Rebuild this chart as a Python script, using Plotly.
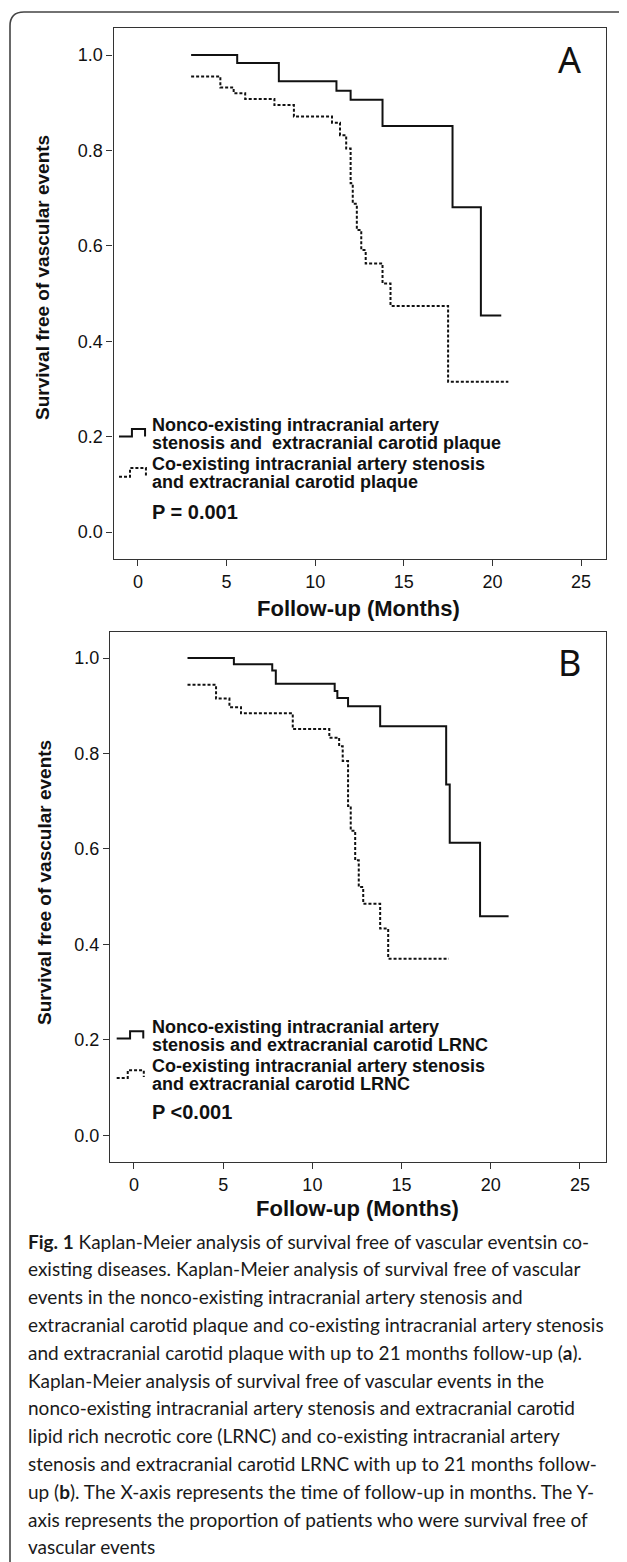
import plotly.graph_objects as go

# ---------------- data ----------------
A_non_time = [3.0, 5.6, 7.95, 11.2, 12.0, 13.8, 17.75, 19.35, 20.5]
A_non_surv = [1.0, 0.983, 0.945, 0.925, 0.906, 0.851, 0.681, 0.454, 0.454]

A_co_time = [3.0, 4.65, 5.4, 6.05, 7.7, 8.8, 10.95, 11.4, 11.75, 12.0, 12.12,
             12.35, 12.6, 12.85, 13.8, 14.25, 17.5, 20.9]
A_co_surv = [0.955, 0.932, 0.920, 0.908, 0.895, 0.871, 0.858, 0.832, 0.804, 0.731,
             0.688, 0.633, 0.591, 0.563, 0.521, 0.474, 0.315, 0.315]

B_non_time = [3.0, 5.6, 7.75, 7.95, 11.25, 11.4, 12.0, 13.8, 17.5, 17.7, 19.4, 21.0]
B_non_surv = [1.0, 0.987, 0.974, 0.946, 0.931, 0.916, 0.899, 0.857, 0.735, 0.613,
              0.459, 0.459]

B_co_time = [3.0, 4.6, 5.35, 6.0, 8.9, 10.95, 11.5, 11.7, 12.0, 12.15, 12.4, 12.6,
             12.85, 13.8, 14.25, 17.65]
B_co_surv = [0.944, 0.915, 0.897, 0.884, 0.851, 0.833, 0.815, 0.784, 0.690, 0.638,
             0.576, 0.520, 0.485, 0.433, 0.370, 0.370]

x_ticks = [0, 5, 10, 15, 20, 25]
y_ticks = [0.0, 0.2, 0.4, 0.6, 0.8, 1.0]
y_ticklabels = ["0.0", "0.2", "0.4", "0.6", "0.8", "1.0"]

legend_A = [["Nonco-existing intracranial artery", "stenosis and\u00a0 extracranial carotid plaque"],
            ["Co-existing intracranial artery stenosis", "and extracranial carotid plaque"]]
legend_B = [["Nonco-existing intracranial artery", "stenosis and extracranial carotid LRNC"],
            ["Co-existing intracranial artery stenosis", "and extracranial carotid LRNC"]]
p_A = "P = 0.001"
p_B = "P <0.001"
x_title = "Follow-up (Months)"
y_title = "Survival free of vascular events"

caption_lines = [
    "<b>Fig. 1</b> Kaplan-Meier analysis of survival free of vascular eventsin co-",
    "existing diseases. Kaplan-Meier analysis of survival free of vascular",
    "events in the nonco-existing intracranial artery stenosis and",
    "extracranial carotid plaque and co-existing intracranial artery stenosis",
    "and extracranial carotid plaque with up to 21 months follow-up (<b>a</b>).",
    "Kaplan-Meier analysis of survival free of vascular events in the",
    "nonco-existing intracranial artery stenosis and extracranial carotid",
    "lipid rich necrotic core (LRNC) and co-existing intracranial artery",
    "stenosis and extracranial carotid LRNC with up to 21 months follow-",
    "up (<b>b</b>). The X-axis represents the time of follow-up in months. The Y-",
    "axis represents the proportion of patients who were survival free of",
    "vascular events",
]

# ---------------- layout geometry (screen pixels) ----------------
W, H = 627, 1562
OFF = 8  # the page body adds an 8px margin; compensate so screen positions match
def px(x):
    return (x - OFF) / W
def py(y):
    return 1 - (y - OFF) / H

ARIAL = "Liberation Sans, Arial, sans-serif"
INK = "#111111"

fig = go.Figure()

def add_curves(xa, ya, t1, s1, t2, s2):
    fig.add_trace(go.Scatter(x=t1, y=s1, mode="lines", line=dict(color=INK, width=2, shape="hv"),
                             xaxis=xa, yaxis=ya, showlegend=False, hoverinfo="skip"))
    fig.add_trace(go.Scatter(x=t2, y=s2, mode="lines",
                             line=dict(color=INK, width=2, shape="hv", dash="3px,2px"),
                             xaxis=xa, yaxis=ya, showlegend=False, hoverinfo="skip"))

add_curves("x", "y", A_non_time, A_non_surv, A_co_time, A_co_surv)
add_curves("x2", "y2", B_non_time, B_non_surv, B_co_time, B_co_surv)

axis_common = dict(showline=True, mirror=True, linecolor="#333333", linewidth=1.3,
                   ticks="outside", ticklen=6, tickcolor="#333333", tickwidth=1.3,
                   showgrid=False, zeroline=False,
                   tickfont=dict(family=ARIAL, size=18, color=INK))

fig.update_layout(
    width=W, height=H, margin=dict(l=0, r=0, t=0, b=0),
    paper_bgcolor="white", plot_bgcolor="white",
    xaxis=dict(domain=[px(113.5), px(606)], range=[-1.38, 26.41], tickvals=x_ticks,
               anchor="y", **axis_common),
    yaxis=dict(domain=[py(559), py(28)], range=[-0.0566, 1.0566], tickvals=y_ticks,
               ticktext=y_ticklabels, anchor="x", **axis_common),
    xaxis2=dict(domain=[px(110), px(606)], range=[-1.345, 26.46], tickvals=x_ticks,
                anchor="y2", **axis_common),
    yaxis2=dict(domain=[py(1162), py(632)], range=[-0.056, 1.0545], tickvals=y_ticks,
                ticktext=y_ticklabels, anchor="x2", **axis_common),
)

ann = []
shapes = []

def text(x, y, s, size, bold=False, family=ARIAL, xanchor="left", angle=0, color=INK):
    ann.append(dict(x=px(x), y=py(y), xref="paper", yref="paper", text=s, showarrow=False,
                    xanchor=xanchor, yanchor="middle", textangle=angle,
                    font=dict(family=family, size=size, color=color,
                              weight="bold" if bold else "normal")))

# Panel letters
text(569, 60, "A", 36, family="Noto Sans, Open Sans, sans-serif", xanchor="center")
text(569, 662, "B", 36, family="Noto Sans, Open Sans, sans-serif", xanchor="center")

# axis titles
text(358, 608, x_title, 22, bold=True, xanchor="center")
text(357, 1208, x_title, 22, bold=True, xanchor="center")
text(43, 278, y_title, 19, bold=True, xanchor="center", angle=-90)
text(44, 883, y_title, 19, bold=True, xanchor="center", angle=-90)

# legends
for (lines, ys) in [(legend_A[0], (425, 443)), (legend_A[1], (464, 482)),
                    (legend_B[0], (1027, 1045)), (legend_B[1], (1066, 1084))]:
    for s, yy in zip(lines, ys):
        text(150, yy, s, 18, bold=True)
text(150, 512, p_A, 20, bold=True)
text(150, 1112, p_B, 20, bold=True)

# legend step symbols (axis coordinates)
def sym(xr, yr, path, dash):
    shapes.append(dict(type="path", xref=xr, yref=yr, path=path,
                       line=dict(color=INK, width=2, dash=dash)))
sym("x", "y", "M -1.07,0.200 L -0.34,0.200 L -0.34,0.216 L 0.40,0.216 L 0.40,0.200", "solid")
sym("x", "y", "M -1.07,0.116 L -0.45,0.116 L -0.45,0.134 L 0.45,0.134 L 0.45,0.118", "3px,2px")
sym("x2", "y2", "M -0.97,0.203 L -0.22,0.203 L -0.22,0.218 L 0.52,0.218 L 0.52,0.203", "solid")
sym("x2", "y2", "M -0.97,0.120 L -0.35,0.120 L -0.35,0.136 L 0.55,0.136 L 0.55,0.122", "3px,2px")

# caption
for i, s in enumerate(caption_lines):
    text(26, 1241 + i * 27.8, s, 19, family="Lato, Open Sans, sans-serif", color="#1a1a1a")

# outer rounded border (runs off the right and bottom edges)
r = 14
x0, y0, x1, y1 = 10, 12, 650, 1575
path = (f"M {px(x1)},{py(y0)} L {px(x0 + r)},{py(y0)} "
        f"Q {px(x0)},{py(y0)} {px(x0)},{py(y0 + r)} "
        f"L {px(x0)},{py(y1)}")
shapes.append(dict(type="path", xref="paper", yref="paper", path=path,
                   line=dict(color="#444444", width=1.6)))

fig.update_layout(annotations=ann, shapes=shapes)
fig.write_html("out.html")
